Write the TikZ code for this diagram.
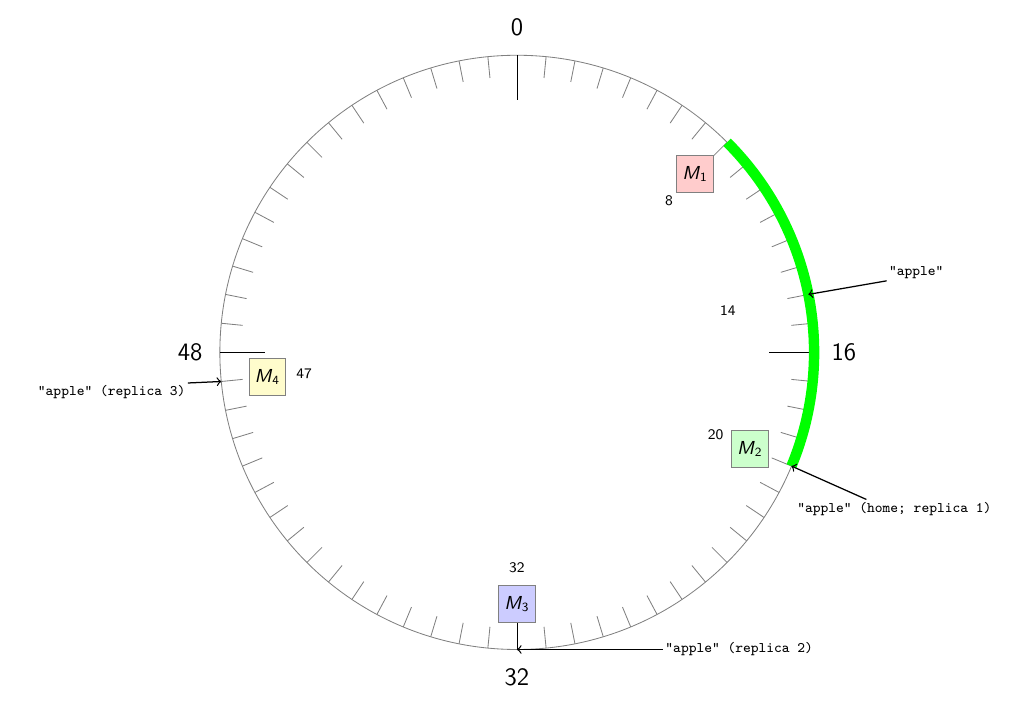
\documentclass[tikz,border=0pt]{standalone}
\usepackage{amsmath, amssymb}
\usepackage{tikz}

\begin{document}
\begin{tikzpicture}
        \tikzset{machine/.style={draw=gray, minimum size=0.62cm, inner sep=0pt, font=\sffamily\small},
                 slot/.style={font=\sffamily\scriptsize},
                 quarter/.style={font=\sffamily\large},
                 key/.style={font=\ttfamily\scriptsize, inner sep=1pt}}
        \useasboundingbox (-8.70,-5.86) rectangle (8.65,5.93);

        \draw [gray] (0,0) circle [radius=5];
        \foreach \k in {1,...,15,17,18,...,31,33,34,...,47,49,50,...,63}
                \draw [gray] (90-5.625*\k:5) -- (90-5.625*\k:4.64);
        \foreach \k in {0,16,32,48}
                \draw (90-5.625*\k:5) -- (90-5.625*\k:4.24);

        \draw [green, line width=5pt] (45:5) arc [start angle=45, end angle=-22.5, radius=5];

        \node [quarter] (n0) at (90:5.47) {0};
        \node [quarter] (n16) at (0:5.5) {16};
        \node [quarter] (n32) at (-90:5.47) {32};
        \node [quarter] (n48) at (180:5.5) {48};

        \node [machine, fill=red!20] (m1) at (45:4.24) {\textit{M}\textsubscript{1}};
        \node [slot] (s8) at (45:3.62) {8};
        \node [machine, fill=green!20] (m2) at (-22.5:4.24) {\textit{M}\textsubscript{2}};
        \node [slot] (s20) at (-22.5:3.62) {20};
        \node [machine, fill=blue!20] (m3) at (-90:4.24) {\textit{M}\textsubscript{3}};
        \node [slot] (s32) at (-90:3.62) {32};
        \node [machine, fill=yellow!20] (m4) at (90-5.625*47:4.22) {\textit{M}\textsubscript{4}};
        \node [slot] (s47) at (90-5.625*47:3.60) {47};
        \node [slot] (s14) at (90-5.625*14:3.62) {14};

        \coordinate (p14) at (90-5.625*14:5);
        \coordinate (p20) at (90-5.625*20:5);
        \coordinate (p32) at (90-5.625*32:5);
        \coordinate (p47) at (90-5.625*47:5);

        \node [key] (k1) at (6.72,1.35) {"apple"};
        \node [key] (k2) at (6.35,-2.63) {"apple" (home; replica 1)};
        \node [key] (k3) at (3.74,-5.0) {"apple" (replica 2)};
        \node [key] (k4) at (-6.82,-0.67) {"apple" (replica 3)};

        \draw [->, semithick] (k1.south west) -- (p14);
        \draw [->, semithick] ([xshift=-0.47cm]k2.north) -- (p20);
        \draw [->, semithick] (k3.west) -- (p32);
        \draw [->, semithick] (k4.north east) -- (p47);
\end{tikzpicture}
\end{document}
